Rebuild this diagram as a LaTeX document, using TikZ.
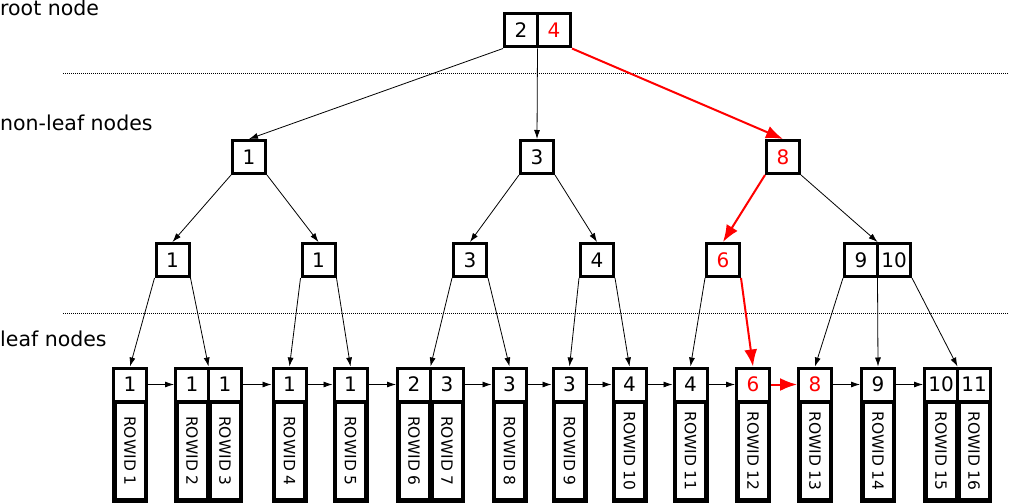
\documentclass[tikz,border=0pt]{standalone}
\usepackage{fontspec}
\setmainfont{DejaVu Sans}
\usetikzlibrary{arrows.meta,calc}
\begin{document}
\begin{tikzpicture}[x=1pt,y=-1pt,
  cell/.style={draw, line width=3pt, minimum width=33pt, minimum height=33pt, inner sep=0pt, fill=white, font=\fontsize{20}{20}\selectfont},
  rowid/.style={draw, line width=4.5pt, rotate=-90, minimum width=98.5pt, minimum height=31.5pt, inner sep=0pt, fill=white, font=\fontsize{15.5}{15.5}\selectfont},
  edge/.style={line width=0.8pt, -{Latex[length=9pt,width=6pt]}},
  redge/.style={draw=red, line width=2pt, -{Latex[length=17pt,width=13pt]}},
  lbl/.style={anchor=base west, inner sep=0pt, font=\fontsize{20.5}{20.5}\selectfont},
  sep/.style={line width=0.7pt, dash pattern=on 1pt off 1pt}
]
\useasboundingbox (0,0) rectangle (1009,503);

% labels and separators
\node[lbl] (t1) at (0,16) {root node};
\node[lbl] (t2) at (0,130.5) {non-leaf nodes};
\node[lbl] (t3) at (0,346) {leaf nodes};
\draw[sep] (63,73) -- (1009,73);
\draw[sep] (63,313) -- (1009,313);

% ROWID boxes
\foreach \x/\n in {130/1,192/2,225/3,289.5/4,350.5/5,414/6,447/7,509.5/8,569.5/9,629.5/10,690.5/11,753/12,815/13,878/14,941/15,974/16}
  \node[rowid] (w\n) at (\x,451) {ROWID \n};

% root
\node[cell] (r1) at (521,30.5) {2};
\node[cell,text=red] (r2) at (554,30.5) {4};

% level 1
\node[cell] (a) at (249,157) {1};
\node[cell] (b) at (537,157) {3};
\node[cell,text=red] (c) at (783,157) {8};

% level 2
\node[cell] (d) at (172.5,260) {1};
\node[cell] (e) at (318.5,260) {1};
\node[cell] (f) at (470,260) {3};
\node[cell] (g) at (597,260) {4};
\node[cell,text=red] (h) at (723,260) {6};
\node[cell] (i1) at (861,260) {9};
\node[cell] (i2) at (894,260) {10};

% leaves
\node[cell] (l1) at (130,384.5) {1};
\node[cell] (l2a) at (192,384.5) {1};
\node[cell] (l2b) at (225,384.5) {1};
\node[cell] (l3) at (289.5,384.5) {1};
\node[cell] (l4) at (350.5,384.5) {1};
\node[cell] (l5a) at (414,384.5) {2};
\node[cell] (l5b) at (447,384.5) {3};
\node[cell] (l6) at (509.5,384.5) {3};
\node[cell] (l7) at (569.5,384.5) {3};
\node[cell] (l8) at (629.5,384.5) {4};
\node[cell] (l9) at (690.5,384.5) {4};
\node[cell,text=red] (l10) at (753,384.5) {6};
\node[cell,text=red] (l11) at (815,384.5) {8};
\node[cell] (l12) at (878,384.5) {9};
\node[cell] (l13a) at (941,384.5) {10};
\node[cell] (l13b) at (974,384.5) {11};

% divider points
\coordinate (rdiv) at ($(r1.south east)!.5!(r2.south west)$);
\coordinate (idivS) at ($(i1.south east)!.5!(i2.south west)$);
\coordinate (idivN) at ($(i1.north east)!.5!(i2.north west)$);
\coordinate (l2div) at ($(l2a.north east)!.5!(l2b.north west)$);
\coordinate (l5div) at ($(l5a.north east)!.5!(l5b.north west)$);
\coordinate (l13div) at ($(l13a.north east)!.5!(l13b.north west)$);

% tree edges
\draw[edge] (r1.south west) -- (a.north);
\draw[edge] (rdiv) -- (b.north);
\draw[redge] (r2.south east) -- (c.north);
\draw[edge] (a.south west) -- (d.north);
\draw[edge] (a.south east) -- (e.north);
\draw[edge] (b.south west) -- (f.north);
\draw[edge] (b.south east) -- (g.north);
\draw[redge] (c.south west) -- (h.north);
\draw[edge] (c.south east) -- (idivN);
\draw[edge] (d.south west) -- (l1.north);
\draw[edge] (d.south east) -- (l2div);
\draw[edge] (e.south west) -- (l3.north);
\draw[edge] (e.south east) -- (l4.north);
\draw[edge] (f.south west) -- (l5div);
\draw[edge] (f.south east) -- (l6.north);
\draw[edge] (g.south west) -- (l7.north);
\draw[edge] (g.south east) -- (l8.north);
\draw[edge] (h.south west) -- (l9.north);
\draw[redge] (h.south east) -- (l10.north);
\draw[edge] (i1.south west) -- (l11.north);
\draw[edge] (idivS) -- (l12.north);
\draw[edge] (i2.south east) -- (l13div);

% leaf chain
\draw[edge] (l1.east) -- (l2a.west);
\draw[edge] (l2b.east) -- (l3.west);
\draw[edge] (l3.east) -- (l4.west);
\draw[edge] (l4.east) -- (l5a.west);
\draw[edge] (l5b.east) -- (l6.west);
\draw[edge] (l6.east) -- (l7.west);
\draw[edge] (l7.east) -- (l8.west);
\draw[edge] (l8.east) -- (l9.west);
\draw[edge] (l9.east) -- (l10.west);
\draw[redge] (l10.east) -- (l11.west);
\draw[edge] (l11.east) -- (l12.west);
\draw[edge] (l12.east) -- (l13a.west);
\end{tikzpicture}
\end{document}
